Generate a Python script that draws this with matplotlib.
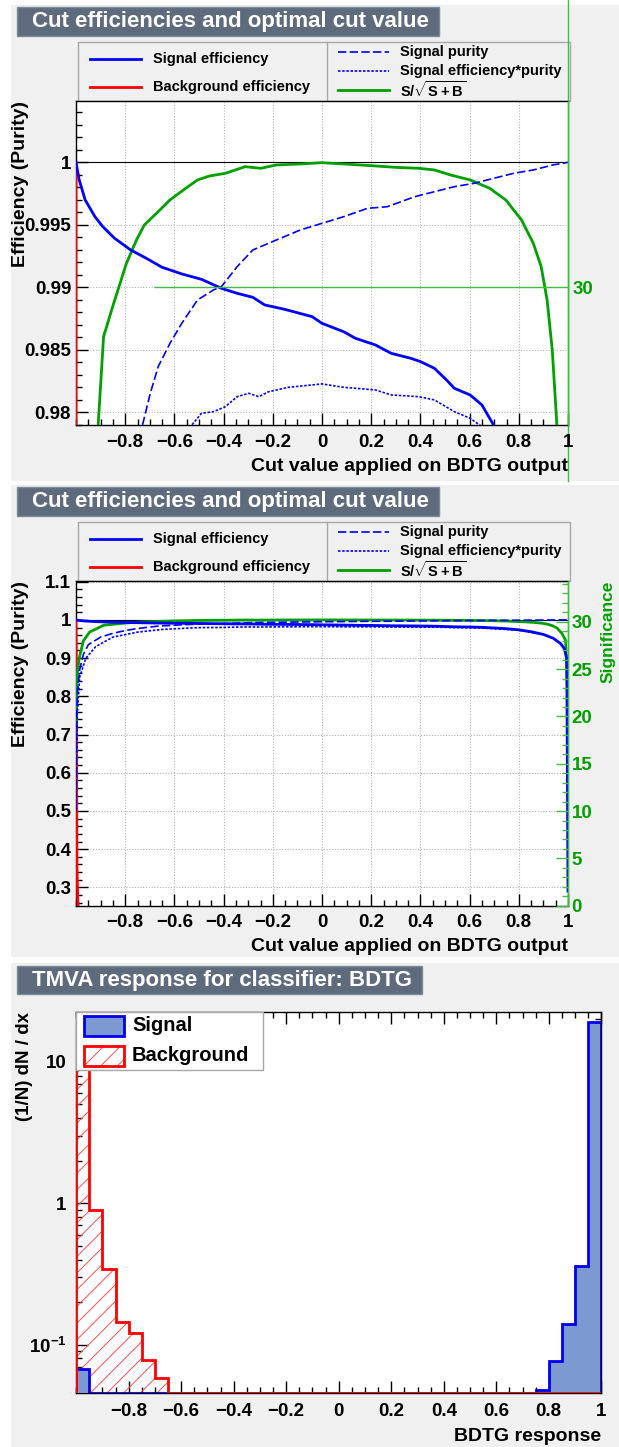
import numpy as np
import matplotlib
matplotlib.use("Agg")
import matplotlib.pyplot as plt
from matplotlib.patches import Rectangle
from matplotlib.ticker import MultipleLocator, FixedLocator, LogLocator, NullFormatter

# ---------------- data ----------------
# signal efficiency vs cut value
cut_eff = [-1.0, -0.987, -0.963, -0.923, -0.891, -0.843, -0.778, -0.714, -0.650, -0.570,
           -0.490, -0.409, -0.345, -0.281, -0.233, -0.152, -0.040, 0.0, 0.088, 0.136,
           0.217, 0.281, 0.361, 0.401, 0.457, 0.506, 0.538, 0.602, 0.650, 0.698,
           0.75, 0.80, 0.85, 0.90, 0.94, 0.97, 0.985, 0.995, 1.0]
sig_eff = [1.0, 0.9986, 0.9970, 0.99565, 0.99485, 0.99392, 0.99299, 0.99232, 0.9916, 0.99107,
           0.99064, 0.98992, 0.98952, 0.9892, 0.98859, 0.98824, 0.98765, 0.98712, 0.98645, 0.98592,
           0.98539, 0.98472, 0.98432, 0.98405, 0.98352, 0.98259, 0.98192, 0.98139, 0.98059, 0.97896,
           0.977, 0.974, 0.969, 0.962, 0.952, 0.938, 0.925, 0.90, 0.29]

# background efficiency
cut_bkg = [-1.0, -0.999, -0.998, -0.996, -0.993, -0.99, -0.98, -0.95, -0.9, -0.8, 1.0]
bkg_eff = [1.0, 0.9, 0.6, 0.35, 0.27, 0.24, 0.12, 0.05, 0.02, 0.004, 0.0]

# signal purity
cut_pur = [-1.0, -0.997, -0.993, -0.985, -0.97, -0.95, -0.9, -0.85, -0.8, -0.76,
           -0.730, -0.698, -0.666, -0.618, -0.570, -0.506, -0.441, -0.409, -0.345, -0.281,
           -0.185, -0.088, 0.0, 0.088, 0.185, 0.265, 0.377, 0.457, 0.538, 0.618,
           0.698, 0.779, 0.859, 0.939, 1.0]
sig_pur = [0.5, 0.75, 0.82, 0.87, 0.91, 0.935, 0.955, 0.965, 0.972, 0.9765,
           0.97896, 0.98152, 0.98365, 0.98552, 0.98712, 0.98899, 0.98979, 0.99005, 0.99165, 0.99299,
           0.99379, 0.99459, 0.99512, 0.99565, 0.99632, 0.99645, 0.99725, 0.99765, 0.99805, 0.99832,
           0.99872, 0.99912, 0.99939, 0.99979, 1.0]

# signal efficiency * purity
cut_ep = [-1.0, -0.995, -0.985, -0.96, -0.92, -0.85, -0.75, -0.65, -0.530, -0.490,
          -0.441, -0.393, -0.345, -0.297, -0.257, -0.217, -0.136, -0.040, 0.0, 0.088,
          0.217, 0.281, 0.393, 0.457, 0.538, 0.602, 0.642, 0.70, 0.80, 0.90,
          0.94, 0.97, 0.985, 0.995, 1.0]
sig_effpur = [0.5, 0.75, 0.85, 0.90, 0.93, 0.955, 0.968, 0.975, 0.97896, 0.97992,
              0.98005, 0.98045, 0.98125, 0.98152, 0.98125, 0.98165, 0.982, 0.98219, 0.98227, 0.982,
              0.98179, 0.98139, 0.98125, 0.98099, 0.98005, 0.97952, 0.97896, 0.977, 0.973, 0.962,
              0.952, 0.938, 0.925, 0.90, 0.29]

# S/sqrt(S+B), drawn in efficiency units
cut_sig = [-1.0, -0.995, -0.987, -0.97, -0.945, -0.910, -0.888, -0.851, -0.795, -0.754,
           -0.722, -0.666, -0.618, -0.554, -0.506, -0.457, -0.393, -0.313, -0.249, -0.185,
           -0.088, 0.0, 0.088, 0.217, 0.297, 0.393, 0.457, 0.522, 0.602, 0.682,
           0.747, 0.811, 0.859, 0.891, 0.915, 0.936, 0.955, 0.975, 0.99, 1.0]
sig_scaled = [0.72, 0.86, 0.90, 0.945, 0.968, 0.97896, 0.98605, 0.98845, 0.99192, 0.99379,
              0.99499, 0.99605, 0.99699, 0.99792, 0.99859, 0.99891, 0.99912, 0.99965, 0.99952, 0.99979,
              0.99987, 0.99997, 0.99987, 0.99971, 0.9996, 0.99952, 0.99939, 0.99899, 0.99859, 0.99792,
              0.99699, 0.99539, 0.99352, 0.99165, 0.98899, 0.98499, 0.97896, 0.965, 0.947, 0.79]

# BDTG response histograms, 40 bins on [-1, 1]
bin_edges = np.linspace(-1, 1, 41)
hist_sig = [0.067, 0, 0, 0, 0, 0, 0, 0, 0, 0,
            0, 0, 0, 0, 0, 0, 0, 0, 0, 0,
            0, 0, 0, 0, 0, 0, 0, 0, 0, 0,
            0, 0, 0, 0, 0, 0.0477, 0.077, 0.140, 0.360, 19.1]
hist_bkg = [18.0, 0.90, 0.345, 0.146, 0.121, 0.078, 0.058, 0, 0, 0,
            0, 0, 0, 0, 0, 0, 0, 0, 0, 0,
            0, 0, 0, 0, 0, 0, 0, 0, 0, 0,
            0, 0, 0, 0, 0, 0, 0, 0, 0, 0]

xticks = [-0.8, -0.6, -0.4, -0.2, 0, 0.2, 0.4, 0.6, 0.8, 1]
xticklabels = ["\u22120.8", "\u22120.6", "\u22120.4", "\u22120.2", "0", "0.2", "0.4", "0.6", "0.8", "1"]

# ---------------- style ----------------
W, H = 619, 1447
plt.rcParams['font.family'] = ['Liberation Sans', 'DejaVu Sans']
plt.rcParams['font.weight'] = 'bold'
plt.rcParams['axes.labelweight'] = 'bold'
plt.rcParams['mathtext.fontset'] = 'custom'
plt.rcParams['mathtext.rm'] = 'Liberation Sans:bold'
plt.rcParams['mathtext.bf'] = 'Liberation Sans:bold'
plt.rcParams['hatch.linewidth'] = 0.7
plt.rcParams['axes.linewidth'] = 1.0

PAD = '#f0f0f0'
TITLE = '#5d6b7d'
BLUE = '#0000ff'
RED = '#ff0000'
GREEN = '#00a000'
LGREEN = '#44bb44'
TICKSIZE = 13.5
LABELSIZE = 14

fig = plt.figure(figsize=(W / 100, H / 100), dpi=100)
fig.patch.set_facecolor('white')


def box(l, t, r, b):
    return [l / W, 1 - b / H, (r - l) / W, (b - t) / H]


deco = fig.add_axes([0, 0, 1, 1], zorder=-10)
deco.set_xlim(0, W)
deco.set_ylim(H, 0)
deco.axis('off')

over = fig.add_axes([0, 0, 1, 1], zorder=20)
over.set_xlim(0, W)
over.set_ylim(H, 0)
over.axis('off')
over.patch.set_alpha(0)

# pad backgrounds
for t, b in [(5, 481), (485, 957), (963, 1447)]:
    deco.add_patch(Rectangle((11, t), W - 11, b - t, fc=PAD, ec='none'))


def title_box(t, w, h, txt):
    deco.add_patch(Rectangle((16.6, t), w, h, fc=TITLE, ec='#7d8b9d', lw=1))
    deco.text(32.4, t + h / 2 + 0.5, txt, color='white', fontsize=16, ha='left', va='center')


def eff_legend(dy):
    deco.add_patch(Rectangle((78, 42.3 + dy), 492, 58.4, fc=PAD, ec='#a8a8a8', lw=1))
    deco.plot([326.5, 326.5], [42.3 + dy, 100.7 + dy], color='#a8a8a8', lw=1)
    left = [("Signal efficiency", dict(color=BLUE, lw=2), 59.3),
            ("Background efficiency", dict(color=RED, lw=2), 87.3)]
    for txt, st, y in left:
        deco.plot([90, 141], [y + dy, y + dy], **st)
        deco.text(153, y + dy, txt, fontsize=10.5, ha='left', va='center')
    right = [("Signal purity", dict(color=BLUE, lw=1.2, ls=(0, (5, 2))), 52.3),
             ("Signal efficiency*purity", dict(color=BLUE, lw=1.2, ls=(0, (1.5, 1))), 70.7),
             (r"$\mathrm{S/\sqrt{S+B}}$", dict(color=GREEN, lw=2), 90.0)]
    for txt, st, y in right:
        deco.plot([337.5, 389], [y + dy, y + dy], **st)
        deco.text(399.5, y + dy, txt, fontsize=10.5, ha='left', va='center')


def style_eff_axes(ax, ylo, yhi, ymajor, yminor, yfmt):
    ax.set_facecolor('white')
    ax.set_xlim(-1, 1)
    ax.set_ylim(ylo, yhi)
    ax.xaxis.set_major_locator(FixedLocator(xticks))
    ax.set_xticklabels(xticklabels)
    ax.xaxis.set_minor_locator(MultipleLocator(0.05))
    ax.yaxis.set_major_locator(MultipleLocator(ymajor))
    ax.yaxis.set_minor_locator(MultipleLocator(yminor))
    ax.yaxis.set_major_formatter(yfmt)
    ax.tick_params(which='both', direction='in', top=False, right=False, labelsize=TICKSIZE)
    ax.tick_params(which='major', length=8.6, width=1)
    ax.tick_params(which='minor', length=4.3, width=1)
    ax.tick_params(axis='x', pad=6)
    ax.tick_params(axis='y', pad=3.5)
    ax.grid(True, which='major', color='#b4b4b4', ls=(0, (1, 1.5)), lw=0.8)
    ax.set_axisbelow(True)
    ax.axhline(1.0, color='black', lw=0.8, zorder=1)
    ax.plot(cut_bkg, bkg_eff, color=RED, lw=2, zorder=3)
    ax.plot(cut_sig, sig_scaled, color=GREEN, lw=2, zorder=3)
    ax.plot(cut_pur, sig_pur, color=BLUE, lw=1.2, ls=(0, (5, 2)), zorder=3)
    ax.plot(cut_ep, sig_effpur, color=BLUE, lw=1.2, ls=(0, (1.5, 1)), zorder=3)
    ax.plot(cut_eff, sig_eff, color=BLUE, lw=2, zorder=4)
    ax.set_xlabel("Cut value applied on BDTG output", fontsize=LABELSIZE, loc='right')
    ax.xaxis.label.set_va('center')
    ax.set_ylabel("Efficiency (Purity)", fontsize=LABELSIZE, loc='top')
    ax.yaxis.label.set_va('center')
    ax.spines['right'].set_color(LGREEN)


def fmt_gen(v, pos):
    s = ('%g' % round(v, 4))
    return s.replace('-', '\u2212')


# ---------------- panel 1 : zoomed efficiencies ----------------
title_box(6.7, 422.4, 29.3, "Cut efficiencies and optimal cut value")
eff_legend(0)
ax1 = fig.add_axes(box(76, 100.7, 568, 425.3))
style_eff_axes(ax1, 0.97896, 1.00493, 0.005, 0.001, fmt_gen)
ax1.xaxis.set_label_coords(1.0, (425.3 - 466.7) / 324.6)
ax1.yaxis.set_label_coords((20.3 - 76) / 492, 1.0)
ax1r = ax1.twinx()
ax1r.set_ylim(ax1.get_ylim())
ax1r.yaxis.set_major_locator(FixedLocator([0.99]))
ax1r.set_yticklabels(["30"])
ax1r.tick_params(axis='y', direction='in', length=(568 - 154) * 0.72, width=1,
                 color=LGREEN, labelcolor=GREEN, labelsize=TICKSIZE, pad=3)
for s in ['left', 'top', 'bottom']:
    ax1r.spines[s].set_visible(False)
ax1r.spines['right'].set_color(LGREEN)
deco.plot([568, 568], [0, 481], color=LGREEN, lw=1)

# ---------------- panel 2 : full efficiencies ----------------
title_box(486.7, 422.4, 29.3, "Cut efficiencies and optimal cut value")
eff_legend(480)
ax2 = fig.add_axes(box(76, 580.7, 568, 905.7))
style_eff_axes(ax2, 0.252, 1.1026, 0.1, 0.02, fmt_gen)
ax2.xaxis.set_label_coords(1.0, (905.7 - 946.7) / 325.0)
ax2.yaxis.set_label_coords((20.3 - 76) / 492, 1.0)
ax2r = ax2.twinx()
ax2r.set_ylim(0, 34.35)
ax2r.yaxis.set_major_locator(FixedLocator([0, 5, 10, 15, 20, 25, 30]))
ax2r.yaxis.set_minor_locator(MultipleLocator(1))
ax2r.tick_params(axis='y', which='both', direction='in', width=1, color=LGREEN,
                 labelcolor=GREEN, labelsize=TICKSIZE, pad=2.7)
ax2r.tick_params(axis='y', which='major', length=8.6)
ax2r.tick_params(axis='y', which='minor', length=4.3)
for s in ['left', 'top', 'bottom']:
    ax2r.spines[s].set_visible(False)
ax2r.spines['right'].set_color(LGREEN)
ax2r.set_ylabel("Significance", color=GREEN, fontsize=12.5, loc='top')
ax2r.yaxis.set_label_coords((608 - 76) / 492, 1.0)
ax2r.yaxis.label.set_va('center')

# ---------------- panel 3 : classifier response ----------------
title_box(965.7, 405.8, 28.6, "TMVA response for classifier: BDTG")

ax3 = fig.add_axes(box(76.2, 1011.7, 601.3, 1393.3))
ax3.set_facecolor('white')
ylo, yhi = 0.0454, 22.6
ax3.set_xlim(-1, 1)
ax3.set_yscale('log')
ax3.set_ylim(ylo, yhi)
bkg_draw = np.clip(hist_bkg, ylo, None)
sig_draw = np.clip(hist_sig, ylo, None)
ax3.stairs(bkg_draw, bin_edges, baseline=ylo, fill=True, facecolor='none',
           edgecolor='#ff5050', hatch='//', lw=0, zorder=2)
ax3.stairs(sig_draw, bin_edges, baseline=ylo, fill=True, facecolor='#7d99d1', lw=0, zorder=3)
ax3.stairs(sig_draw, bin_edges, baseline=ylo, color='#0000ee', lw=2, zorder=4)
ax3.stairs(bkg_draw, bin_edges, baseline=ylo, color=RED, lw=2, zorder=5)
ax3.xaxis.set_major_locator(FixedLocator(xticks))
ax3.set_xticklabels(xticklabels)
ax3.xaxis.set_minor_locator(MultipleLocator(0.05))
ax3.yaxis.set_major_locator(FixedLocator([0.1, 1, 10]))
ax3.set_yticklabels([r"$\mathrm{10^{-1}}$", "1", "10"])
ax3.yaxis.set_minor_locator(LogLocator(base=10, subs=np.arange(2, 10)))
ax3.yaxis.set_minor_formatter(NullFormatter())
ax3.tick_params(which='both', direction='in', top=True, right=True, labelsize=TICKSIZE)
ax3.tick_params(which='major', length=8.6, width=1)
ax3.tick_params(which='minor', length=4.3, width=1)
ax3.tick_params(axis='x', pad=7)
ax3.tick_params(axis='y', pad=7)
ax3.set_xlabel("BDTG response", fontsize=LABELSIZE, loc='right')
ax3.xaxis.label.set_va('center')
ax3.xaxis.set_label_coords(1.0, (1393.3 - 1436.7) / 381.6)
ax3.set_ylabel("(1/N) dN / dx", fontsize=13.5, loc='top')
ax3.yaxis.label.set_va('center')
ax3.yaxis.set_label_coords((24 - 76.2) / 525.1, 1.0)

# legend of panel 3
over.add_patch(Rectangle((76.2, 1011.7), 186.3, 58.3, fc='white', ec='#a8a8a8', lw=1))
over.add_patch(Rectangle((83.7, 1015.7), 40.7, 20.3, fc='#7d99d1', ec='#0000ee', lw=2))
over.add_patch(Rectangle((83.7, 1045.7), 40.7, 20.3, fc='none', ec='#ff5050', hatch='//', lw=0))
over.add_patch(Rectangle((83.7, 1045.7), 40.7, 20.3, fc='none', ec=RED, lw=2))
over.text(132, 1025.7, "Signal", fontsize=14.5, ha='left', va='center')
over.text(132, 1055.5, "Background", fontsize=14.5, ha='left', va='center')

fig.savefig("out.png", dpi=100)
